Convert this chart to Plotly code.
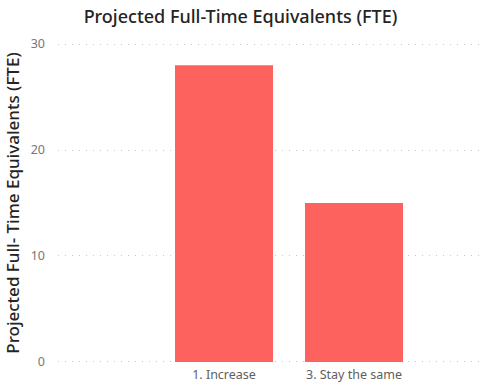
import plotly.graph_objects as go

categories = ["1. Increase", "3. Stay the same"]
fte_values = [28, 15]
y_ticks = [0, 10, 20, 30]

fig = go.Figure(
    go.Bar(
        x=categories,
        y=fte_values,
        width=0.754,
        marker=dict(color="#FD625E", line=dict(width=0)),
        hoverinfo="x+y",
    )
)

fig.update_layout(
    width=481,
    height=385,
    margin=dict(l=58, r=0, t=43, b=22),
    paper_bgcolor="white",
    plot_bgcolor="white",
    showlegend=False,
    font=dict(family="Noto Sans, Open Sans, sans-serif"),
    title=dict(
        text="Projected Full-Time Equivalents (FTE)",
        x=0.5,
        xanchor="center",
        y=0.957,
        yanchor="middle",
        font=dict(size=18, color="#252423", family="Noto Sans, sans-serif", weight=500),
    ),
)

fig.update_xaxes(
    type="category",
    range=[-1.277, 1.977],
    showgrid=False,
    showline=False,
    zeroline=False,
    ticks="",
    ticklabelstandoff=2,
    tickfont=dict(size=12.5, color="#605E5C"),
)

fig.update_yaxes(
    range=[-0.1, 30.1],
    tickvals=y_ticks,
    showgrid=True,
    gridcolor="#C8C8C8",
    griddash="1px,6px",
    gridwidth=1,
    zeroline=False,
    showline=False,
    ticks="",
    ticklabelstandoff=12,
    tickfont=dict(size=12.5, color="#777777"),
    title=dict(
        text="Projected Full- Time Equivalents (FTE)",
        font=dict(size=17, color="#252423", weight=500),
        standoff=6,
    ),
)

fig.write_html("out.html")
